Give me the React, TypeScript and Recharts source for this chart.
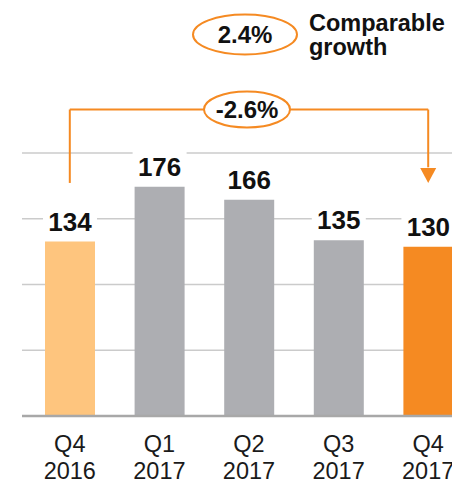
import React from 'react';
import { BarChart, Bar, XAxis, YAxis, CartesianGrid, Cell, LabelList, ReferenceLine, ReferenceDot } from 'recharts';

const quarters = ['Q4', 'Q1', 'Q2', 'Q3', 'Q4'];
const years = ['2016', '2017', '2017', '2017', '2017'];
const values = [134, 176, 166, 135, 130];
const barColors = ['#fec57e', '#adaeb2', '#adaeb2', '#adaeb2', '#f58a22'];
const gridTicks = [0, 50.5, 101, 151.5, 202];

const yoyGrowth = '-2.6%';
const comparableGrowth = '2.4%';
const comparableText = ['Comparable', 'growth'];

const data = quarters.map((q, i) => ({ period: `${q} ${years[i]}`, value: values[i] }));
const first = data[0].period;
const last = data[data.length - 1].period;
const mid = data[2].period;

const ORANGE = '#f58a22';
const FONT = '"Liberation Sans", Arial, sans-serif';

// bracket levels in value units
const bracketY = 235.4;
const bracketFoot = 179;
const arrowTop = 191;
const topBubbleY = 293;

function AxisTick({ x, y, payload }: any) {
  const [q, yr] = String(payload.value).split(' ');
  return (
    <g>
      <text x={x} y={y + 36} textAnchor="middle" fontSize={23.5} fill="#1a1a1a" fontFamily={FONT}>{q}</text>
      <text x={x} y={y + 63} textAnchor="middle" fontSize={23.5} fill="#1a1a1a" fontFamily={FONT}>{yr}</text>
    </g>
  );
}

function ValueLabel({ x, y, width, value }: any) {
  const cx = x + width / 2;
  const base = y - 11;
  return (
    <g>
      <rect x={cx - 27} y={base - 25} width={54} height={31} fill="#fff" />
      <text x={cx} y={base} textAnchor="middle" fontSize={26} fontWeight="bold" fill="#111" fontFamily={FONT}>{value}</text>
    </g>
  );
}

function Bubble({ cx, cy, rx, ry, text }: any) {
  return (
    <g>
      <ellipse cx={cx} cy={cy} rx={rx} ry={ry} fill="#fff" stroke={ORANGE} strokeWidth={2} />
      <text x={cx} y={cy + 8} textAnchor="middle" fontSize={24} fontWeight="bold" fill="#111" fontFamily={FONT}>{text}</text>
    </g>
  );
}

export default function App() {
  return (
    <div style={{ width: 452, height: 473, overflow: 'hidden' }}>
      <BarChart width={465} height={473} data={data} margin={{ top: 145, right: 0, left: 14, bottom: 0 }}>
        <CartesianGrid vertical={false} stroke="#cbcbcb" strokeWidth={1.5} />
        <YAxis hide domain={[0, 202]} ticks={gridTicks} />
        <XAxis
          dataKey="period"
          height={65}
          padding={{ left: 3, right: 0 }}
          axisLine={{ stroke: '#a8a8a8', strokeWidth: 2.5 }}
          tickLine={false}
          tickSize={0}
          tickMargin={0}
          tick={<AxisTick />}
          interval={0}
        />
        <Bar dataKey="value" barSize={50} isAnimationActive={false}>
          {data.map((d, i) => (
            <Cell key={d.period} fill={barColors[i]} />
          ))}
          <LabelList dataKey="value" content={<ValueLabel />} />
        </Bar>
        <ReferenceLine segment={[{ x: first, y: bracketFoot }, { x: first, y: bracketY }]} stroke={ORANGE} strokeWidth={2} ifOverflow="visible" />
        <ReferenceLine segment={[{ x: first, y: bracketY }, { x: last, y: bracketY }]} stroke={ORANGE} strokeWidth={2} ifOverflow="visible" />
        <ReferenceLine segment={[{ x: last, y: bracketY }, { x: last, y: arrowTop }]} stroke={ORANGE} strokeWidth={2} ifOverflow="visible" />
        <ReferenceDot
          x={last}
          y={bracketFoot}
          ifOverflow="visible"
          shape={(p: any) => (
            <path d={`M${p.cx - 8},${p.cy - 15} L${p.cx + 8},${p.cy - 15} L${p.cx},${p.cy} Z`} fill={ORANGE} />
          )}
        />
        <ReferenceDot
          x={mid}
          y={bracketY}
          ifOverflow="visible"
          shape={(p: any) => <Bubble cx={p.cx - 2} cy={p.cy} rx={43} ry={18} text={yoyGrowth} />}
        />
        <ReferenceDot
          x={mid}
          y={topBubbleY}
          ifOverflow="visible"
          shape={(p: any) => (
            <g>
              <Bubble cx={p.cx - 4} cy={p.cy} rx={52} ry={20} text={comparableGrowth} />
              <text x={p.cx + 60} y={p.cy - 4} fontSize={23.5} fontWeight="bold" fill="#111" fontFamily={FONT}>{comparableText[0]}</text>
              <text x={p.cx + 60} y={p.cy + 20} fontSize={23.5} fontWeight="bold" fill="#111" fontFamily={FONT}>{comparableText[1]}</text>
            </g>
          )}
        />
      </BarChart>
    </div>
  );
}
